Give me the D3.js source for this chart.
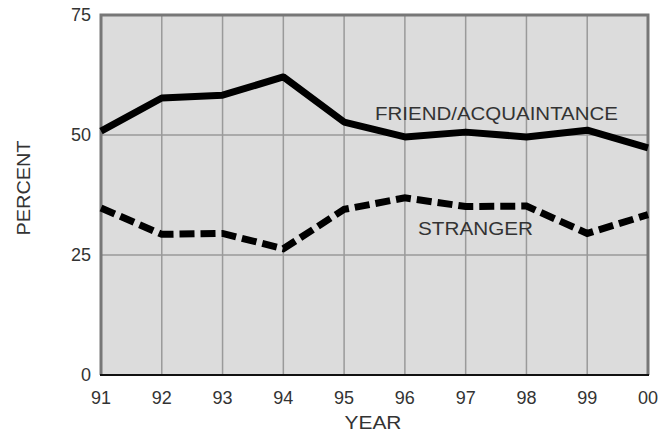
<!DOCTYPE html>
<html><head><meta charset="utf-8">
<script src="https://cdn.jsdelivr.net/npm/d3@7"></script>
<style>body{margin:0;background:#fff}svg{display:block}text{font-family:"Liberation Sans",Arial,sans-serif;fill:#333}</style>
</head><body><svg id="c" width="664" height="433"></svg>
<script>
const years = ["91","92","93","94","95","96","97","98","99","00"];
const friend = [50.8, 57.7, 58.3, 62.1, 52.7, 49.6, 50.6, 49.6, 51.0, 47.3];
const stranger = [34.8, 29.3, 29.5, 26.3, 34.5, 36.9, 35.1, 35.2, 29.5, 33.4];
const yTicks = [0, 25, 50, 75];

const svg = d3.select("#c");
const m = {l:101, t:15, r:648, b:375};
const x = d3.scalePoint().domain(years).range([m.l, m.r]);
const y = d3.scaleLinear().domain([0,75]).range([m.b, m.t]);

svg.append("rect").attr("x",m.l).attr("y",m.t).attr("width",m.r-m.l).attr("height",m.b-m.t).attr("fill","#dcdcdc");
// grid
svg.append("g").selectAll("line").data(years.slice(1,-1)).join("line")
  .attr("x1",d=>x(d)).attr("x2",d=>x(d)).attr("y1",m.t).attr("y2",m.b)
  .attr("stroke","#9a9a9a").attr("stroke-width",1.5);
svg.append("g").selectAll("line").data(yTicks.slice(1,-1)).join("line")
  .attr("x1",m.l).attr("x2",m.r).attr("y1",d=>y(d)).attr("y2",d=>y(d))
  .attr("stroke","#9a9a9a").attr("stroke-width",1.5);
// frame
svg.append("path").attr("d",`M${m.l},${m.b}V${m.t}H${m.r}V${m.b}`).attr("fill","none").attr("stroke","#777").attr("stroke-width",3);
svg.append("line").attr("x1",m.l-1).attr("x2",m.r+1).attr("y1",m.b).attr("y2",m.b).attr("stroke","#111").attr("stroke-width",2);

const line = d3.line().x((d,i)=>x(years[i])).y(d=>y(d));
svg.append("path").datum(friend).attr("d",line).attr("fill","none").attr("stroke","#000").attr("stroke-width",7).attr("stroke-linejoin","round");
svg.append("path").datum(stranger).attr("d",line).attr("fill","none").attr("stroke","#000").attr("stroke-width",7).attr("stroke-dasharray","15,6");

// axis labels
svg.append("g").selectAll("text").data(yTicks).join("text")
  .attr("x",91).attr("y",d=>y(d)+6).attr("text-anchor","end").attr("font-size",18).text(d=>d);
svg.append("g").selectAll("text").data(years).join("text")
  .attr("x",d=>x(d)).attr("y",404).attr("text-anchor","middle").attr("font-size",18).text(d=>d);
svg.append("text").attr("x",373).attr("y",429).attr("text-anchor","middle").attr("font-size",18)
  .attr("textLength",57).attr("lengthAdjust","spacingAndGlyphs").text("YEAR");
svg.append("text").attr("transform","translate(30,188) rotate(-90)").attr("text-anchor","middle").attr("font-size",18)
  .attr("textLength",95).attr("lengthAdjust","spacingAndGlyphs").text("PERCENT");
svg.append("text").attr("x",375).attr("y",120).attr("font-size",18)
  .attr("textLength",243).attr("lengthAdjust","spacingAndGlyphs").text("FRIEND/ACQUAINTANCE");
svg.append("text").attr("x",418).attr("y",235).attr("font-size",18)
  .attr("textLength",115).attr("lengthAdjust","spacingAndGlyphs").text("STRANGER");
</script></body></html>
